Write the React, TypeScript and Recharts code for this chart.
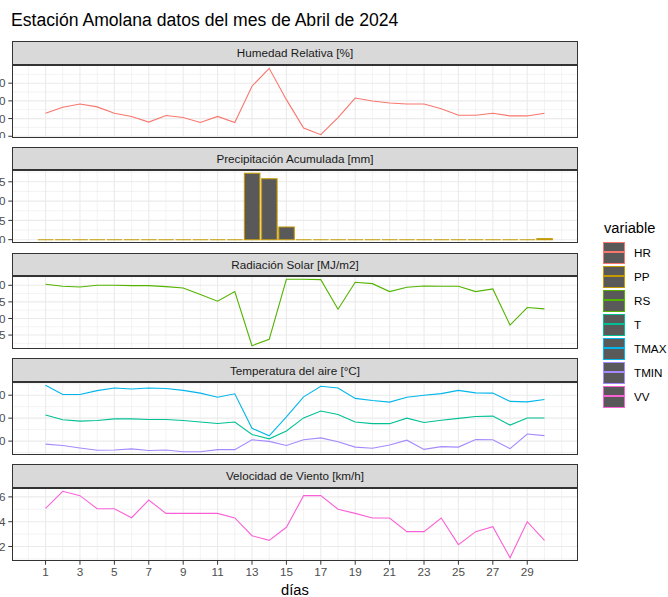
import React from "react";
import { ComposedChart, Line, Bar, XAxis, YAxis, ReferenceLine } from "recharts";

// daily values, April 2024
const days = [1, 2, 3, 4, 5, 6, 7, 8, 9, 10, 11, 12, 13, 14, 15, 16, 17, 18, 19, 20, 21, 22, 23, 24, 25, 26, 27, 28, 29, 30];
const HR = [63.0, 66.4, 68.2, 66.6, 63.0, 61.2, 58.0, 61.7, 60.6, 57.8, 61.2, 57.8, 78.3, 88.4, 70.7, 54.7, 50.9, 60.6, 71.6, 69.9, 68.8, 68.2, 68.2, 65.5, 61.9, 61.9, 63.0, 61.5, 61.5, 63.0];
const PP = [0, 0, 0, 0, 0, 0, 0, 0, 0, 0, 0, 0, 17.2, 15.8, 3.3, 0, 0, 0, 0, 0, 0, 0, 0, 0, 0, 0, 0, 0, 0, 0.25];
const RS = [20.3, 19.7, 19.5, 20.0, 20.0, 19.9, 19.9, 19.6, 19.2, 17.2, 15.2, 18.1, 1.8, 3.7, 21.8, 21.8, 21.7, 12.8, 20.9, 20.5, 18.1, 19.4, 19.8, 19.7, 19.7, 18.1, 18.9, 8.0, 13.3, 12.9];
const T = [21.4, 19.3, 18.7, 19.0, 19.7, 19.7, 19.4, 19.4, 19.0, 18.3, 17.7, 18.3, 12.9, 11.0, 14.4, 20.1, 23.1, 21.6, 18.3, 17.6, 17.6, 20.0, 18.1, 19.1, 19.9, 20.7, 20.9, 17.0, 20.1, 20.1];
const TMAX = [34.3, 30.3, 30.3, 32.0, 33.1, 32.7, 33.1, 32.9, 32.1, 30.9, 29.1, 30.6, 15.6, 12.3, 20.6, 29.3, 33.9, 33.1, 28.6, 27.7, 27.0, 29.1, 30.0, 30.7, 32.1, 31.0, 30.9, 27.3, 27.1, 28.1];
const TMIN = [8.7, 8.1, 7.0, 6.0, 6.1, 6.6, 5.9, 6.1, 5.4, 5.4, 6.3, 6.3, 10.6, 9.9, 8.1, 10.6, 11.4, 9.7, 7.4, 6.9, 8.3, 10.4, 6.4, 7.6, 7.4, 10.7, 10.6, 6.7, 13.1, 12.4];
const VV = [5.08, 6.45, 6.1, 5.05, 5.05, 4.32, 5.75, 4.67, 4.67, 4.67, 4.67, 4.3, 2.87, 2.5, 3.55, 6.1, 6.1, 5.0, 4.67, 4.3, 4.3, 3.2, 3.2, 4.3, 2.15, 3.2, 3.6, 1.1, 4.0, 2.5];

const xLimits: [number, number] = [-0.95, 31.95];
const xMajor = [1, 3, 5, 7, 9, 11, 13, 15, 17, 19, 21, 23, 25, 27, 29];
const xMinor = [0, 2, 4, 6, 8, 10, 12, 14, 16, 18, 20, 22, 24, 26, 28, 30, 31];

const variables = ["HR", "PP", "RS", "T", "TMAX", "TMIN", "VV"];
const colors: Record<string, string> = {
  HR: "#F8766D",
  PP: "#C49A00",
  RS: "#53B400",
  T: "#00C094",
  TMAX: "#00B6EB",
  TMIN: "#A58AFF",
  VV: "#FB61D7",
};

const series: Record<string, number[]> = { HR, PP, RS, T, TMAX, TMIN, VV };
const rows = days.map((day, i) => {
  const r: Record<string, number> = { day };
  variables.forEach((v) => (r[v] = series[v][i]));
  return r;
});

const panels = [
  { title: "Humedad Relativa [%]", keys: ["HR"], major: [50, 60, 70, 80], minor: [45, 55, 65, 75, 85, 90] },
  { title: "Precipitación Acumulada [mm]", keys: ["PP"], bar: true, major: [0, 5, 10, 15], minor: [2.5, 7.5, 12.5, 17.5] },
  { title: "Radiación Solar [MJ/m2]", keys: ["RS"], major: [5, 10, 15, 20], minor: [2.5, 7.5, 12.5, 17.5, 22.5] },
  { title: "Temperatura del aire [°C]", keys: ["T", "TMAX", "TMIN"], major: [10, 20, 30], minor: [5, 15, 25, 35] },
  { title: "Velocidad de Viento [km/h]", keys: ["VV"], major: [2, 4, 6], minor: [1, 3, 5] },
];

const FONT = '"Liberation Sans", Arial, Helvetica, sans-serif';
const GRID = "#EBEBEB";
const PLOT_LEFT = 12;
const PLOT_W = 566;
const PLOT_H = 73;
const AXIS_W = 50;

function yDomain(keys: string[], bar?: boolean): [number, number] {
  const vals = keys.flatMap((k) => series[k]);
  let lo = Math.min(...vals);
  const hi = Math.max(...vals);
  if (bar) lo = Math.min(lo, 0);
  const pad = (hi - lo) * 0.05;
  return [lo - pad, hi + pad];
}

// zero-height bars still show their outline, like ggplot
const barShape = (props: any) => {
  const { x, y, width, height } = props;
  const h = height || 0;
  return (
    <path
      d={`M${x},${y} h${width} v${h} h${-width} Z`}
      fill="#595959"
      stroke={colors.PP}
      strokeWidth={1.1}
    />
  );
};

function Panel({ p, index, last }: { p: any; index: number; last: boolean }) {
  const top = 41 + index * 105.75;
  const plotTop = top + 23.5;
  const chartH = PLOT_H + (last ? 30 : 0);
  const dom = yDomain(p.keys, p.bar);
  const layer: React.CSSProperties = {
    position: "absolute",
    left: PLOT_LEFT - AXIS_W,
    top: plotTop,
    width: AXIS_W + PLOT_W,
    height: chartH,
  };
  const margin = { top: 0, right: 0, bottom: 0, left: 0 };
  return (
    <>
      <div
        style={{
          position: "absolute",
          left: PLOT_LEFT,
          top,
          width: PLOT_W,
          height: 23.5,
          background: "#D9D9D9",
          border: "1px solid #333333",
          boxSizing: "border-box",
          display: "flex",
          alignItems: "center",
          justifyContent: "center",
          fontSize: 11.7,
          color: "#1A1A1A",
        }}
      >
        {p.title}
      </div>
      {/* grid layer, under the data */}
      <div style={layer}>
        <ComposedChart width={AXIS_W + PLOT_W} height={chartH} data={rows} margin={margin}>
          <XAxis dataKey="day" type="number" domain={xLimits} allowDataOverflow hide={!last} height={30} tick={false} tickLine={false} axisLine={false} />
          <YAxis type="number" domain={dom} allowDataOverflow width={AXIS_W} tick={false} tickLine={false} axisLine={false} />
          {xMinor.map((v) => (
            <ReferenceLine key={"xm" + v} x={v} stroke={GRID} strokeWidth={0.6} />
          ))}
          {p.minor.map((v: number) => (
            <ReferenceLine key={"ym" + v} y={v} stroke={GRID} strokeWidth={0.6} />
          ))}
          {xMajor.map((v) => (
            <ReferenceLine key={"xM" + v} x={v} stroke={GRID} strokeWidth={1.1} />
          ))}
          {p.major.map((v: number) => (
            <ReferenceLine key={"yM" + v} y={v} stroke={GRID} strokeWidth={1.1} />
          ))}
        </ComposedChart>
      </div>
      <div style={layer}>
        <ComposedChart width={AXIS_W + PLOT_W} height={chartH} data={rows} margin={margin}>
          <XAxis
            dataKey="day"
            type="number"
            domain={xLimits}
            allowDataOverflow
            ticks={xMajor}
            interval={0}
            hide={!last}
            height={30}
            axisLine={false}
            tickSize={3.7}
            tickMargin={3}
            tickLine={{ stroke: "#333333" }}
            tick={{ fontSize: 11.7, fill: "#4D4D4D", fontFamily: FONT }}
          />
          <YAxis
            type="number"
            domain={dom}
            allowDataOverflow
            ticks={p.major}
            interval={0}
            width={AXIS_W}
            axisLine={false}
            tickSize={3.7}
            tickMargin={2.9}
            tickLine={{ stroke: "#333333" }}
            tick={{ fontSize: 11.7, fill: "#4D4D4D", fontFamily: FONT }}
          />
          {p.bar
            ? p.keys.map((k: string) => (
                <Bar key={k} dataKey={k} barSize={15.5} shape={barShape} isAnimationActive={false} />
              ))
            : p.keys.map((k: string) => (
                <Line
                  key={k}
                  dataKey={k}
                  type="linear"
                  stroke={colors[k]}
                  strokeWidth={1.1}
                  dot={false}
                  activeDot={false}
                  isAnimationActive={false}
                />
              ))}
        </ComposedChart>
      </div>
      <div
        style={{
          position: "absolute",
          left: PLOT_LEFT,
          top: plotTop,
          width: PLOT_W,
          height: PLOT_H,
          border: "1px solid #333333",
          boxSizing: "border-box",
          pointerEvents: "none",
        }}
      />
    </>
  );
}

function LegendBox() {
  return (
    <>
      <div style={{ position: "absolute", left: 604, top: 220, fontSize: 14.7, color: "#000", lineHeight: "17px" }}>variable</div>
      {variables.map((v, i) => (
        <React.Fragment key={v}>
          <div
            style={{
              position: "absolute",
              left: 603,
              top: 241.7 + i * 24,
              width: 22,
              height: 22,
              boxSizing: "border-box",
              background: "#595959",
              border: `1.5px solid ${colors[v]}`,
            }}
          >
            <div style={{ position: "absolute", left: 0, right: 0, top: 8.8, height: 1.6, background: colors[v] }} />
          </div>
          <div style={{ position: "absolute", left: 634, top: 244.7 + i * 24, fontSize: 11.7, lineHeight: "16px", color: "#000" }}>{v}</div>
        </React.Fragment>
      ))}
    </>
  );
}

export default function App() {
  return (
    <div
      style={{
        position: "absolute",
        left: 0,
        top: 0,
        width: 668,
        height: 597,
        overflow: "hidden",
        background: "#fff",
        fontFamily: FONT,
      }}
    >
      <div style={{ position: "absolute", left: 11, top: 12, fontSize: 17.6, lineHeight: 1, color: "#000", whiteSpace: "nowrap" }}>
        Estación Amolana datos del mes de Abril de 2024
      </div>
      {panels.map((p, i) => (
        <Panel key={p.title} p={p} index={i} last={i === panels.length - 1} />
      ))}
      <div style={{ position: "absolute", left: PLOT_LEFT, width: PLOT_W, top: 583, textAlign: "center", fontSize: 14.7, lineHeight: 1, color: "#000" }}>
        días
      </div>
      <LegendBox />
    </div>
  );
}
